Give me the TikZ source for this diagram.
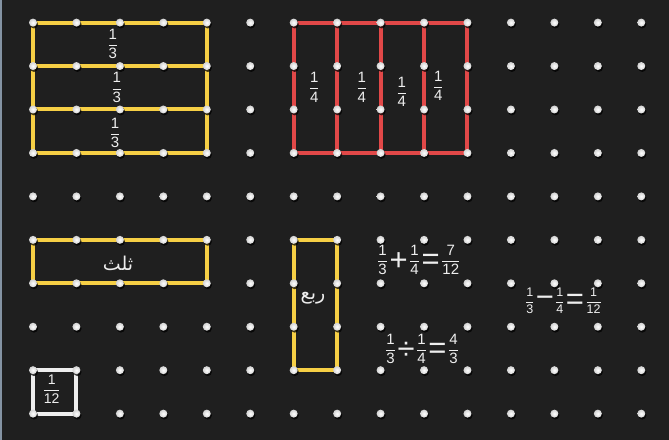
\documentclass[tikz,border=0pt]{standalone}
\usepackage{amsmath}
\usepackage{fontspec}
\setmainfont{Liberation Sans}
\newfontfamily\arabicfont[Script=Arabic]{DejaVu Sans}
\TeXXeTstate=1
\definecolor{board}{HTML}{1F1F1F}
\definecolor{bandyellow}{HTML}{F6CF45}
\definecolor{bandred}{HTML}{E14848}
\definecolor{chalk}{HTML}{EEEEEE}
\definecolor{edgeline}{HTML}{8493A3}
\newcommand{\fr}[2]{\genfrac{}{}{0.8pt}{0}{\text{#1}}{\text{#2}}}
\newcommand{\op}[1]{\mskip2mu\vcenter{\hbox{\fontsize{31}{31}\selectfont #1}}\mskip2mu}
\tikzset{
	yband/.style={draw=bandyellow, line width=4pt},
	rband/.style={draw=bandred, line width=4pt},
	wband/.style={draw=chalk, line width=4pt},
	txt/.style={text=chalk, inner sep=0pt, font=\fontsize{15}{17}\selectfont},
	pegshadow/.style={fill=black, opacity=0.75},
	peg/.style={inner color=white, outer color=gray!35},
}
\begin{document}
\begin{tikzpicture}[x=43.45pt, y=-43.45pt]
		\useasboundingbox (-0.7595,-0.520) rectangle (14.638,9.606);
		\fill[board] (-0.7595,-0.520) rectangle (14.638,9.606);
		\fill[edgeline] (-0.7595,-0.520) rectangle (-0.722,9.606);
		\foreach \i in {0,...,14} \foreach \j in {0,...,9} \coordinate (p-\i-\j) at (\i,\j);
		
		\draw[yband] (p-0-0) rectangle (p-4-3);
		\draw[yband] (p-0-1) -- (p-4-1);
		\draw[yband] (p-0-2) -- (p-4-2);
		\draw[rband] (p-6-0) rectangle (p-10-3);
		\draw[rband] (p-7-0) -- (p-7-3);
		\draw[rband] (p-8-0) -- (p-8-3);
		\draw[rband] (p-9-0) -- (p-9-3);
		\draw[yband] (p-0-5) rectangle (p-4-6);
		\draw[yband] (p-6-5) rectangle (p-7-8);
		\draw[wband] (p-0-8) rectangle (p-1-9);
		
		\foreach \i in {0,...,14} \foreach \j in {0,...,9} {
			\fill[pegshadow] ([shift={(1pt,-1.8pt)}]p-\i-\j) circle (4.1pt);
			\shade[peg] (p-\i-\j) circle (4pt);
		}
		
		\node[txt] (third1) at (1.834,0.493) {$\fr{1}{3}$};
		\node[txt] (third2) at (1.926,1.498) {$\fr{1}{3}$};
		\node[txt] (third3) at (1.887,2.540) {$\fr{1}{3}$};
		\node[txt] (quarter1) at (6.474,1.489) {$\fr{1}{4}$};
		\node[txt] (quarter2) at (7.565,1.489) {$\fr{1}{4}$};
		\node[txt] (quarter3) at (8.486,1.590) {$\fr{1}{4}$};
		\node[txt] (quarter4) at (9.328,1.459) {$\fr{1}{4}$};
		\node[txt, font=\fontsize{14}{16}\selectfont] (twelfth) at (0.430,8.433) {$\fr{1}{12}$};
		\node[txt, font=\arabicfont\fontsize{19}{20}\selectfont] (thulth) at (1.956,5.533) {\beginR ثلث\endR};
		\node[txt, font=\arabicfont\fontsize{19}{20}\selectfont] (rub) at (6.444,6.342) {\beginR ربع\endR};
		
		\node[txt, anchor=west] (sum) at (7.917,5.464) {$\fr{1}{3}\op{+}\fr{1}{4}\op{=}\fr{7}{12}$};
		\node[txt, anchor=west] (quot) at (8.101,7.512) {$\fr{1}{3}\op{÷}\fr{1}{4}\op{=}\fr{4}{3}$};
		\node[txt, anchor=west, font=\fontsize{12.5}{14}\selectfont] (diff) at (11.323,6.407) {$\fr{1}{3}\op{−}\fr{1}{4}\op{=}\fr{1}{12}$};
		
	\end{tikzpicture}
\end{document}
